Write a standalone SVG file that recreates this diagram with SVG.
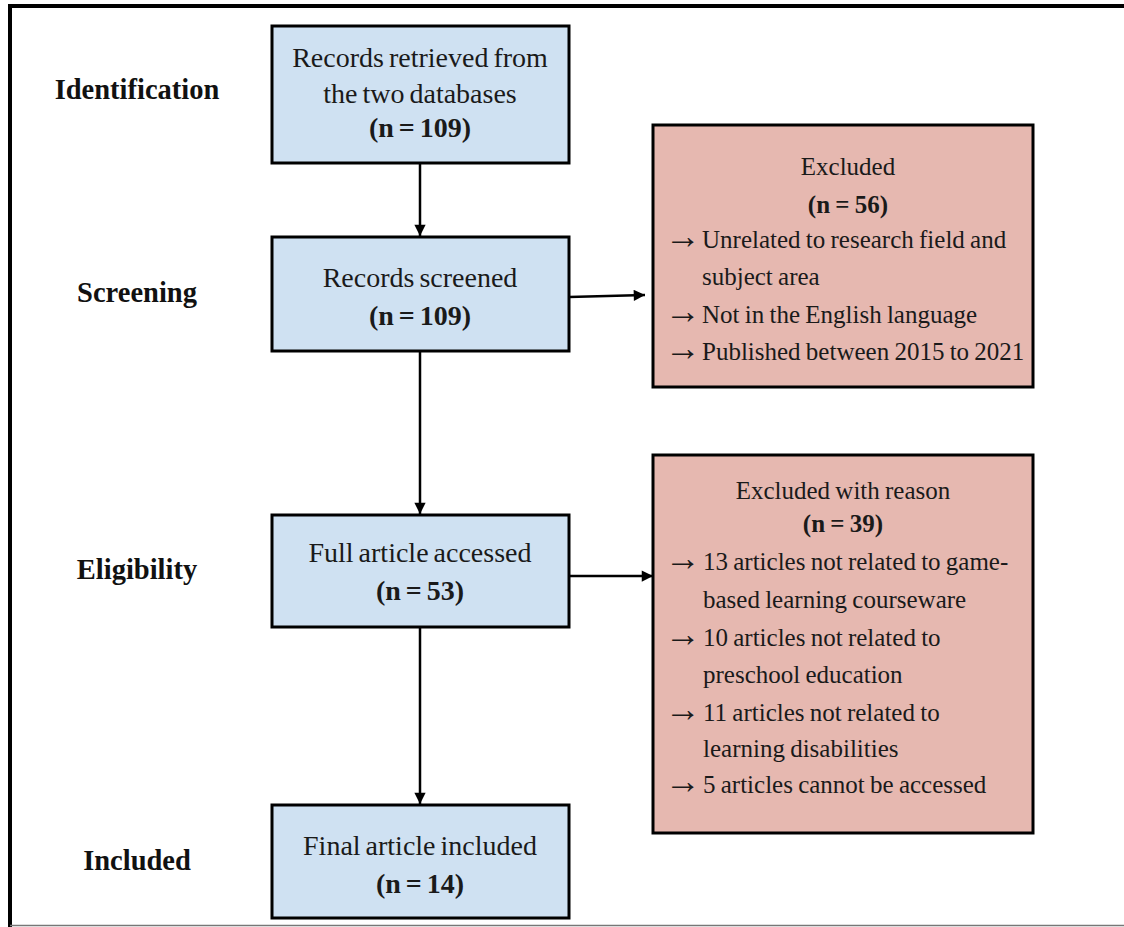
<svg xmlns="http://www.w3.org/2000/svg" width="1124" height="927" viewBox="0 0 1124 927">
<defs>
<style>
.blue{fill:#cfe1f2;stroke:#000;stroke-width:3}
.pink{fill:#e6b8b0;stroke:#000;stroke-width:3}
text{font-family:"Liberation Serif","Times New Roman",serif;fill:#1a1a1a}
.bt{font-size:28px;word-spacing:-2px;text-anchor:middle}
.pt{font-size:25px;word-spacing:-1px}
.c{text-anchor:middle}
.b{font-weight:bold}
.ar{font-size:36px}
.stage{font-weight:bold;text-anchor:middle;font-size:28.5px;fill:#111}
.conn{stroke:#000;stroke-width:2.5;fill:none}
</style>
<marker id="ah" viewBox="0 0 10 10" refX="10" refY="5" markerWidth="5" markerHeight="4.5" markerUnits="strokeWidth" orient="auto">
<path d="M0,0 L10,5 L0,10 z" fill="#000"/>
</marker>
</defs>
<rect x="0" y="0" width="1124" height="927" fill="#fff"/>
<g id="frame">
<line x1="10" y1="4" x2="10" y2="927" stroke="#000" stroke-width="4"/>
<line x1="8" y1="6" x2="1124" y2="6" stroke="#000" stroke-width="4"/>
<line x1="10" y1="925.5" x2="1124" y2="925.5" stroke="#777" stroke-width="1.5"/>
</g>
<g id="stages">
<text class="stage" x="137" y="99">Identification</text>
<text class="stage" x="137" y="302">Screening</text>
<text class="stage" x="137" y="579">Eligibility</text>
<text class="stage" x="137" y="870">Included</text>
</g>
<g id="connectors">
<line class="conn" x1="420" y1="164" x2="420" y2="236" marker-end="url(#ah)"/>
<line class="conn" x1="420" y1="352" x2="420" y2="514" marker-end="url(#ah)"/>
<line class="conn" x1="420" y1="628" x2="420" y2="804" marker-end="url(#ah)"/>
<line class="conn" x1="569" y1="297" x2="645" y2="295" marker-end="url(#ah)"/>
<line class="conn" x1="569" y1="576" x2="653" y2="576" marker-end="url(#ah)"/>
</g>
<g id="node-identification">
<rect class="blue" x="272" y="26" width="297" height="137"/>
<text class="bt" x="420" y="67">Records retrieved from</text>
<text class="bt" x="420" y="103">the two databases</text>
<text class="bt b" x="420" y="137">(n = 109)</text>
</g>
<g id="node-screened">
<rect class="blue" x="272" y="237" width="297" height="114"/>
<text class="bt" x="420" y="287">Records screened</text>
<text class="bt b" x="420" y="325">(n = 109)</text>
</g>
<g id="node-full">
<rect class="blue" x="272" y="515" width="297" height="112"/>
<text class="bt" x="420" y="562">Full article accessed</text>
<text class="bt b" x="420" y="600">(n = 53)</text>
</g>
<g id="node-final">
<rect class="blue" x="272" y="805" width="297" height="113"/>
<text class="bt" x="420" y="855">Final article included</text>
<text class="bt b" x="420" y="893">(n = 14)</text>
</g>
<g id="node-excluded">
<rect class="pink" x="653" y="125" width="380" height="262"/>
<text class="pt c" x="848" y="175">Excluded</text>
<text class="pt c b" x="848" y="213">(n = 56)</text>
<text class="pt" x="665" y="248"><tspan class="ar">→</tspan><tspan x="702">Unrelated to research field and</tspan></text>
<text class="pt" x="702" y="285">subject area</text>
<text class="pt" x="665" y="323"><tspan class="ar">→</tspan><tspan x="702">Not in the English language</tspan></text>
<text class="pt" x="665" y="360"><tspan class="ar">→</tspan><tspan x="702">Published between 2015 to 2021</tspan></text>
</g>
<g id="node-excluded-reason">
<rect class="pink" x="653" y="455" width="380" height="378"/>
<text class="pt c" x="843" y="499">Excluded with reason</text>
<text class="pt c b" x="843" y="532">(n = 39)</text>
<text class="pt" x="665" y="570"><tspan class="ar">→</tspan><tspan x="703">13 articles not related to game-</tspan></text>
<text class="pt" x="703" y="608">based learning courseware</text>
<text class="pt" x="665" y="646"><tspan class="ar">→</tspan><tspan x="703">10 articles not related to</tspan></text>
<text class="pt" x="703" y="683">preschool education</text>
<text class="pt" x="665" y="721"><tspan class="ar">→</tspan><tspan x="703">11 articles not related to</tspan></text>
<text class="pt" x="703" y="757">learning disabilities</text>
<text class="pt" x="665" y="793"><tspan class="ar">→</tspan><tspan x="703">5 articles cannot be accessed</tspan></text>
</g>
</svg>
